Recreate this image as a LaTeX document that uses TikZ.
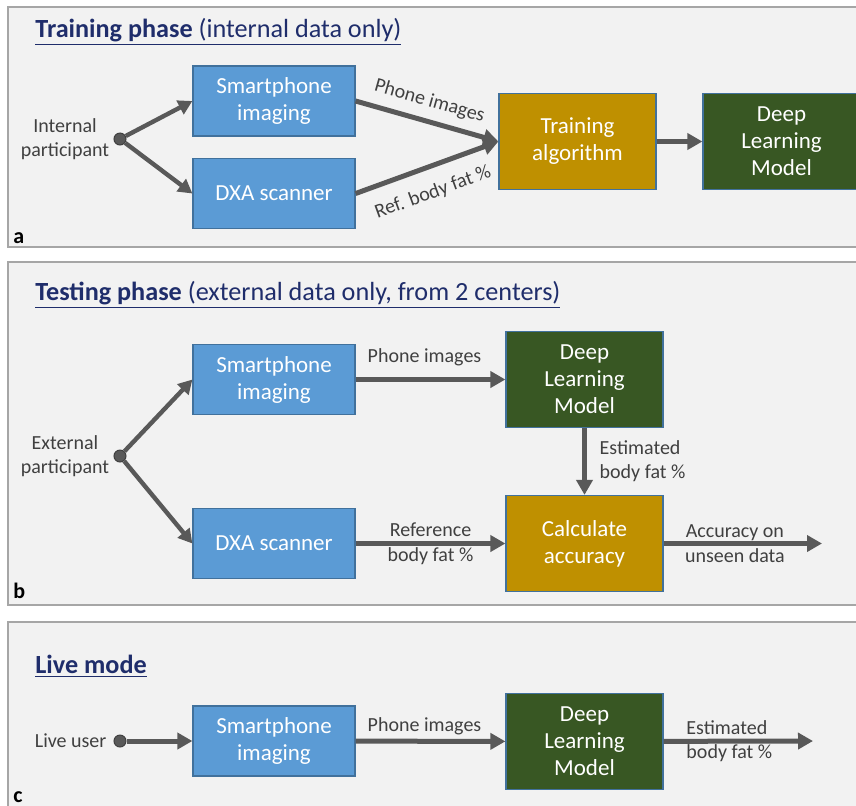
\documentclass[tikz,border=0pt]{standalone}
\usepackage{fontspec}
\setmainfont{Carlito}
\usetikzlibrary{arrows.meta}
\definecolor{panel gray}{HTML}{F2F2F2}
\definecolor{panel line}{HTML}{A6A6A6}
\definecolor{box blue}{HTML}{5B9BD5}
\definecolor{box edge}{HTML}{41719C}
\definecolor{box gold}{HTML}{BF9000}
\definecolor{box green}{HTML}{385723}
\definecolor{arrow gray}{HTML}{595959}
\definecolor{label gray}{HTML}{404040}
\definecolor{title navy}{HTML}{1F2D6B}

\tikzset{
	panel/.style={fill=panel gray, draw=panel line, line width=0.8pt},
	stepbox/.style={draw=box edge, line width=0.6pt, text=white, align=center,
		inner sep=0pt, font=\fontsize{11.5}{13.5}\selectfont},
	phonebox/.style={stepbox, fill=box blue, minimum width=81pt, minimum height=35pt},
	goldbox/.style={stepbox, fill=box gold, minimum width=78.5pt, minimum height=48pt},
	modelbox/.style={stepbox, fill=box green, minimum width=78.5pt, minimum height=48pt},
	flow/.style={draw=arrow gray, line width=2.5pt, -{Triangle[length=7.5pt,width=8pt]}},
	branch/.style={draw=arrow gray, line width=2.2pt, -{Triangle[length=7pt,width=7.5pt]}},
	dot/.style={circle, fill=arrow gray, draw=label gray, line width=0.5pt, inner sep=0pt, minimum size=6pt},
	note/.style={text=label gray, font=\fontsize{10}{12}\selectfont, align=center},
	heading/.style={anchor=base west, inner sep=0pt, text=title navy, font=\fontsize{13.1}{15}\selectfont},
	letter/.style={anchor=base west, font=\fontsize{11}{13}\selectfont\bfseries, inner sep=0pt}
}

\begin{document}
\begin{tikzpicture}[x=0.5pt, y=-0.5pt]
			\useasboundingbox (0,0) rectangle (856,805);
			\clip (0,0) rectangle (856,805);
			% panel backgrounds
			\draw[panel] (8,7) rectangle (880,247);
			\draw[panel] (8,262) rectangle (880,605);
			\draw[panel] (8,622) rectangle (880,840);

			% a: training phase
			\node[heading] (titleA) at (35,37) {\underline{\textbf{Training phase} (internal data only)}};
			\node[letter] (letA) at (13,243) {a};
			\node[dot] (dotA) at (120,139) {};
			\node[note] (partA) at (65,139) {Internal\\participant};
			\node[phonebox] (smartA) at (274,101) {Smartphone\\imaging};
			\node[phonebox] (dxaA) at (274,193.5) {DXA scanner};
			\node[goldbox] (trainA) at (577.5,141.5) {Training\\algorithm};
			\node[modelbox] (modelA) at (781.5,141.5) {Deep\\Learning\\Model};
			\draw[branch] (dotA) -- (smartA.west);
			\draw[branch] (dotA) -- (dxaA.west);
			\draw[flow] (smartA.east) -- node[note, sloped, above=1pt, pos=0.48] {Phone images} (trainA.west);
			\draw[flow] (dxaA.east) -- node[note, sloped, below=4pt, pos=0.48] {Ref. body fat \%} (trainA.west);
			\draw[flow] (trainA) -- (modelA);

			% b: testing phase
			\node[heading] (titleB) at (35,300) {\underline{\textbf{Testing phase} (external data only, from 2 centers)}};
			\node[letter] (letB) at (13,598) {b};
			\node[dot] (dotB) at (120,456) {};
			\node[note] (partB) at (65,456) {External\\participant};
			\node[phonebox] (smartB) at (274,379.5) {Smartphone\\imaging};
			\node[phonebox] (dxaB) at (274,543.5) {DXA scanner};
			\node[modelbox] (modelB) at (584.5,379.5) {Deep\\Learning\\Model};
			\node[goldbox] (calcB) at (584.5,543.5) {Calculate\\accuracy};
			\coordinate (outB) at (822,543.5);
			\draw[branch] (dotB) -- (smartB.west);
			\draw[branch] (dotB) -- (dxaB.west);
			\draw[flow] (smartB) -- node[note, above=2pt, pos=0.46] {Phone images} (modelB);
			\draw[flow] (dxaB) -- node[note, font=\fontsize{10}{12.5}\selectfont] {Reference\\body fat \%} (calcB);
			\draw[flow] (modelB) -- node[note, right=3pt, align=left] {Estimated\\body fat \%} (calcB);
			\draw[flow] (calcB) -- node[note, pos=0.45, font=\fontsize{10}{12.5}\selectfont] {Accuracy on\\unseen data} (outB);

			% c: live mode
			\node[heading] (titleC) at (35,673) {\underline{\textbf{Live mode}}};
			\node[letter] (letC) at (13,802) {c};
			\node[dot] (dotC) at (120,741) {};
			\node[note, anchor=east] (userC) at (dotC.west) {Live user};
			\node[phonebox] (smartC) at (274,741) {Smartphone\\imaging};
			\node[modelbox] (modelC) at (584.5,741.5) {Deep\\Learning\\Model};
			\coordinate (outC) at (813,741);
			\draw[flow] (dotC) -- (smartC);
			\draw[flow] (smartC) -- node[note, above=-1.5pt, pos=0.46] {Phone images} (modelC);
			\draw[flow] (modelC) -- node[note, pos=0.44, align=left, font=\fontsize{10}{12}\selectfont] {Estimated\\body fat \%} (outC);
		\end{tikzpicture}
\end{document}
